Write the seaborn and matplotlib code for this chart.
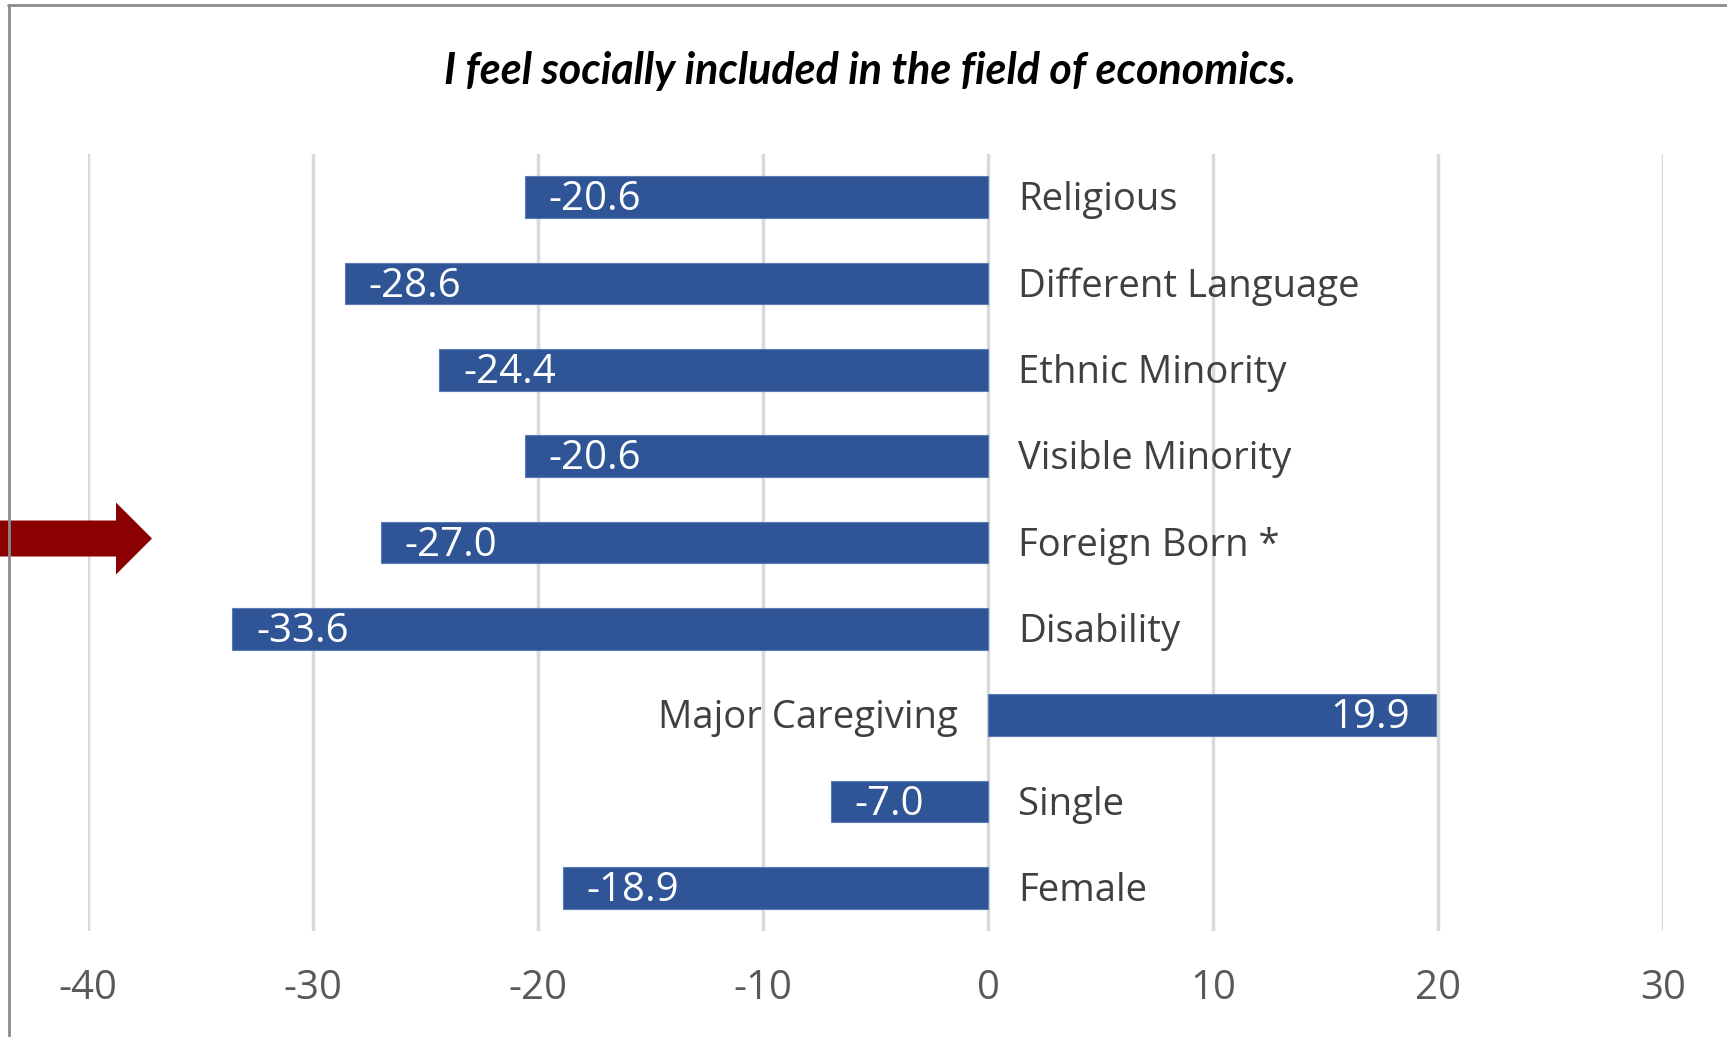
import matplotlib
matplotlib.use("Agg")
import matplotlib.pyplot as plt
from matplotlib.patches import FancyArrow
from matplotlib.lines import Line2D
import seaborn as sns
import pandas as pd

# Survey gap (percentage points) by group
groups = ["Religious", "Different Language", "Ethnic Minority", "Visible Minority",
          "Foreign Born *", "Disability", "Major Caregiving", "Single", "Female"]
gaps = [-20.6, -28.6, -24.4, -20.6, -27.0, -33.6, 19.9, -7.0, -18.9]
x_ticks = [-40, -30, -20, -10, 0, 10, 20, 30]
title = "I feel socially included in the field of economics."
highlight = "Foreign Born *"

df = pd.DataFrame({"group": groups, "gap": gaps})

sns.set_theme(style="white")
plt.rcParams["font.family"] = ["Open Sans", "DejaVu Sans"]

BAR = "#2F5597"
GRID = "#d9d9d9"
TICK = "#595959"
LABEL = "#404040"

fig = plt.figure(figsize=(17.27, 10.37), dpi=100)
ax = fig.add_axes([0.051, 0.1022, 0.912, 0.7493])

sns.barplot(data=df, x="gap", y="group", orient="h", color=BAR, width=0.48,
            saturation=1, edgecolor="#5a7bb5", linewidth=0.8, ax=ax, zorder=3)

ax.set_xlim(-40, 30)
ax.set_ylim(len(groups) - 0.5, -0.5)
ax.set_xticks(x_ticks)
ax.set_xticklabels([str(t) for t in x_ticks])
ax.tick_params(axis="x", length=0, pad=27, labelsize=29, labelcolor=TICK)
ax.set_yticks([])
ax.set_xlabel("")
ax.set_ylabel("")
for s in ax.spines.values():
    s.set_visible(False)
ax.grid(axis="x", color=GRID, linewidth=2.5, zorder=0)
ax.set_axisbelow(True)

VAL_SIZE = 29
CAT_SIZE = 27.5
for i, (g, v) in enumerate(zip(groups, gaps)):
    if v < 0:
        ax.annotate(f"{v:.1f}", xy=(v, i), xytext=(24, -3), textcoords="offset pixels",
                    ha="left", va="center", color="white", fontsize=VAL_SIZE, zorder=4)
        ax.annotate(g, xy=(0, i), xytext=(30, -3), textcoords="offset pixels",
                    ha="left", va="center", color=LABEL, fontsize=CAT_SIZE, zorder=4)
    else:
        ax.annotate(f"{v:.1f}", xy=(v, i), xytext=(-26, -3), textcoords="offset pixels",
                    ha="right", va="center", color="white", fontsize=VAL_SIZE, zorder=4)
        ax.annotate(g, xy=(0, i), xytext=(-30, -3), textcoords="offset pixels",
                    ha="right", va="center", color=LABEL, fontsize=CAT_SIZE, zorder=4)

fig.text(0.504, 0.932, title, ha="center", va="center", fontsize=31,
         fontweight="bold", fontstyle="italic", color="black",
         family=["Lato", "DejaVu Sans"])

# Chart frame (left and top edges)
fig.add_artist(Line2D([0.0052, 0.0052], [0.0, 0.995], transform=fig.transFigure,
                      color="#8c8c8c", linewidth=2))
fig.add_artist(Line2D([0.0045, 1.0], [0.995, 0.995], transform=fig.transFigure,
                      color="#8c8c8c", linewidth=2))

# Pointer arrow toward the highlighted row
row = groups.index(highlight)
W, H = fig.get_size_inches() * fig.dpi
y_fig = fig.transFigure.inverted().transform(ax.transData.transform((0, row)))[1] + 4 / H
arrow = FancyArrow(0.0, y_fig, 152 / W, 0.0, width=36 / H, head_width=72 / H,
                   head_length=36 / W, length_includes_head=True,
                   transform=fig.transFigure, color="#8B0000", linewidth=0)
fig.add_artist(arrow)

fig.savefig("out.png", dpi=100, facecolor="white")
